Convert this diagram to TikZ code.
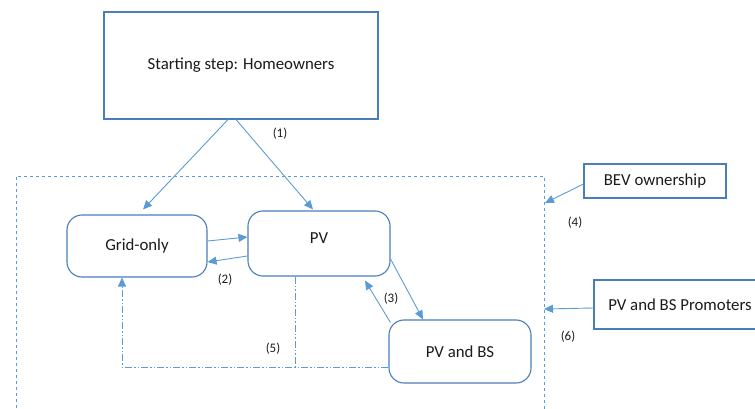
\documentclass[tikz,border=0pt]{standalone}
\usepackage{fontspec}
\setmainfont{Carlito}
\usepackage{xcolor}
\usepackage{tikz}
\usetikzlibrary{arrows.meta,positioning,calc}
\definecolor{edgeblue}{HTML}{5B9BD5}
\definecolor{boxblue}{HTML}{4A7EBB}
\definecolor{inkgray}{HTML}{1A1A1A}

\begin{document}
\begin{tikzpicture}[
  x=1pt,y=-1pt,
  font=\fontsize{16.8}{20}\selectfont,text=inkgray,
  plain/.style={draw=boxblue,line width=1.1pt,align=center,inner sep=2pt},
  state/.style={plain,rounded corners=15pt},
  tag/.style={font=\fontsize{13}{15}\selectfont,inner sep=1pt},
  arr/.style={-{Triangle[length=9pt,width=8pt]},line width=0.9pt,draw=edgeblue},
  dd/.style={line width=0.9pt,draw=edgeblue,
             dash pattern=on 7pt off 2pt on 1.5pt off 2pt on 1.5pt off 2pt}
]
\useasboundingbox (0,0) rectangle (755,409);
\clip (0,0) rectangle (755,409);
% start and the three states
\node[plain,minimum width=274pt,minimum height=107pt] (start) at (241,65.5) {Starting step: Homeowners};
\node[state,minimum width=140pt,minimum height=62pt] (grid) at (137,246) {Grid-only};
\node[state,minimum width=142pt,minimum height=65pt,text height=12pt,text depth=12pt] (pv) at (319,243.5) {PV};
\node[state,minimum width=142pt,minimum height=63pt] (pvbs) at (460,351.5) {PV and BS};
% outside influences
\node[plain,minimum width=142pt,minimum height=34pt] (bev) at (655,181) {BEV ownership};
\node[plain,minimum width=172pt,minimum height=49pt] (prom) at (680,304.5) {PV and BS Promoters};
% frame around the states
\draw[edgeblue,line width=0.9pt,dashed] (16,420) -- (16,176) -- (544,176) -- (544,420);
\coordinate (f4) at (545,203);
\coordinate (f6) at (544,309);
% transitions
\draw[arr] ([xshift=-13pt]start.south) -- ([xshift=6pt,yshift=5pt]grid.north);
\draw[arr] ([xshift=-5pt]start.south) -- ([xshift=-6pt,yshift=1pt]pv.north);
\draw[arr] ([yshift=5pt]grid.east) -- ([yshift=6.5pt]pv.west);
\draw[arr] ([yshift=-12.5pt]pv.west) -- ([yshift=-16pt]grid.east);
\draw[arr] ([yshift=-15.5pt]pv.east) -- ([xshift=-37pt]pvbs.north);
\draw[arr] ([xshift=2pt,yshift=-3pt]pvbs.north west) -- ([xshift=46pt,yshift=-4pt]pv.south);
\draw[arr] ([yshift=-3pt]bev.west) -- (f4);
\draw[arr] ([yshift=-3.5pt]prom.west) -- (f6);
% back to grid-only
\coordinate (loop) at ([yshift=-15.5pt]pvbs.west);
\coordinate (drop) at ([xshift=-24pt]pv.south);
\draw[dd,-{Triangle[length=9pt,width=8pt]}] (loop) -| ([xshift=-15pt]grid.south);
\draw[dd] (drop) -- (drop |- loop);
% step labels
\node[tag] (lbl1) at (280,134) {(1)};
\node[tag] (lbl2) at (225,280) {(2)};
\node[tag] (lbl3) at (391,299) {(3)};
\node[tag] (lbl4) at (575,223) {(4)};
\node[tag] (lbl5) at (273,349) {(5)};
\node[tag] (lbl6) at (568,337) {(6)};
\end{tikzpicture}
\end{document}
